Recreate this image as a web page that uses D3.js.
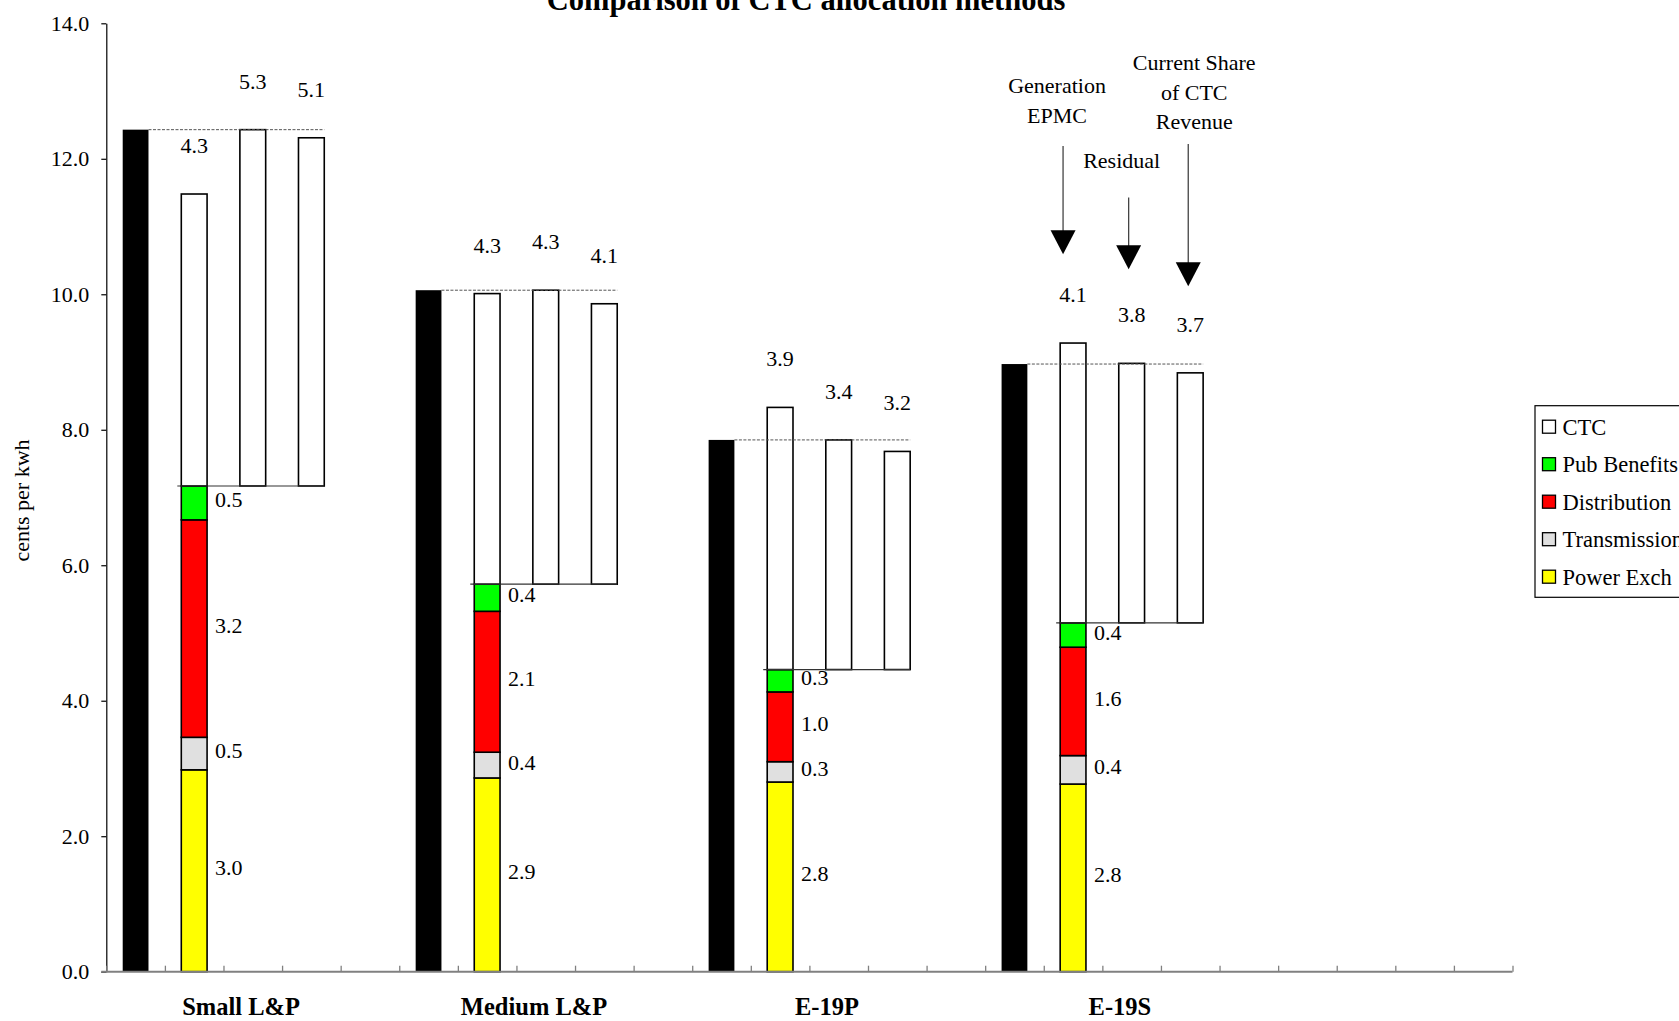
<!DOCTYPE html>
<html>
<head>
<meta charset="utf-8">
<script src="https://cdn.jsdelivr.net/npm/d3@7"></script>
<style>
  html, body { margin: 0; padding: 0; background: #fff; }
  svg { display: block; }
  text { font-family: "Liberation Serif", "Times New Roman", serif; fill: #000; }
</style>
</head>
<body>
<svg id="chart" width="1679" height="1021"></svg>
<script>
// ---------------- data ----------------
const categories = ["Small L&P", "Medium L&P", "E-19P", "E-19S"];
const yTickValues = [0, 2, 4, 6, 8, 10, 12, 14];

// current total rate (black bars), cents per kwh
const currentRate = [12.43, 10.06, 7.85, 8.97];

// stacked components (Generation EPMC method)
const powerExch    = [2.98, 2.86, 2.80, 2.77];
const transmission = [0.48, 0.38, 0.30, 0.42];
const distribution = [3.21, 2.08, 1.03, 1.60];
const pubBenefits  = [0.50, 0.40, 0.33, 0.36];
const ctcEPMC      = [4.31, 4.29, 3.87, 4.13];

// CTC under the other methods (floating bars)
const ctcResidual     = [5.26, 4.34, 3.39, 3.83];
const ctcCurrentShare = [5.14, 4.14, 3.22, 3.69];

const seriesNames = ["Power Exch", "Transmission", "Distribution", "Pub Benefits", "CTC"];
const legendOrder = ["CTC", "Pub Benefits", "Distribution", "Transmission", "Power Exch"];

const methodLabels = [["Generation", "EPMC"], ["Residual"], ["Current Share", "of CTC", "Revenue"]];

// ---------------- styles / layout ----------------
const colors = {
  "Power Exch": "#FFFF00",
  "Transmission": "#E0E0E0",
  "Distribution": "#FF0000",
  "Pub Benefits": "#00FF00",
  "CTC": "#FFFFFF"
};
const W = 1679, H = 1021;
const plot = { left: 106.3, right: 1512.5, top: 23.3, bottom: 971.7 };
const slotsPerGroup = 5, totalSlots = 24;

const svg = d3.select("#chart");

const y = d3.scaleLinear().domain([0, 14]).range([plot.bottom, plot.top]);
const slot = d3.scaleBand().domain(d3.range(totalSlots))
  .range([plot.left, plot.right]).paddingInner(0.56).paddingOuter(0.28);
const bw = slot.bandwidth();
const xBound = d3.scaleLinear().domain([0, totalSlots]).range([plot.left, plot.right]);
const fmt = d3.format(".1f");

const seriesValues = {
  "Power Exch": powerExch, "Transmission": transmission, "Distribution": distribution,
  "Pub Benefits": pubBenefits, "CTC": ctcEPMC
};

const gBars = svg.append("g");
const gLines = svg.append("g");
const gLabels = svg.append("g");

categories.forEach((cat, i) => {
  const base = i * slotsPerGroup;
  // black bar: current rate
  gBars.append("rect")
    .attr("x", slot(base)).attr("width", bw)
    .attr("y", y(currentRate[i])).attr("height", y(0) - y(currentRate[i]))
    .attr("fill", "#000");

  // stacked bar
  let cum = 0;
  const segs = seriesNames.map(name => {
    const v = seriesValues[name][i];
    const s = { name, v, y0: cum, y1: cum + v };
    cum += v;
    return s;
  });
  gBars.selectAll(null).data(segs).enter().append("rect")
    .attr("x", slot(base + 1)).attr("width", bw)
    .attr("y", d => y(d.y1)).attr("height", d => y(d.y0) - y(d.y1))
    .attr("fill", d => colors[d.name])
    .attr("stroke", "#000").attr("stroke-width", 1.6);

  const nonCTC = segs[3].y1;

  // floating CTC bars
  const floats = [
    { slotIdx: base + 2, v: ctcResidual[i] },
    { slotIdx: base + 3, v: ctcCurrentShare[i] }
  ];
  gBars.selectAll(null).data(floats).enter().append("rect")
    .attr("x", d => slot(d.slotIdx)).attr("width", bw)
    .attr("y", d => y(nonCTC + d.v)).attr("height", d => y(nonCTC) - y(nonCTC + d.v))
    .attr("fill", "#fff").attr("stroke", "#000").attr("stroke-width", 1.6);

  // reference lines
  gLines.append("line")
    .attr("x1", slot(base) + bw).attr("x2", slot(base + 3) + bw)
    .attr("y1", y(currentRate[i])).attr("y2", y(currentRate[i]))
    .attr("stroke", "#555").attr("stroke-width", 1).attr("stroke-dasharray", "3,1.5");
  gLines.append("line")
    .attr("x1", slot(base + 1) - 4).attr("x2", slot(base + 3) + bw)
    .attr("y1", y(nonCTC)).attr("y2", y(nonCTC))
    .attr("stroke", "#333").attr("stroke-width", 1.2);

  // segment labels (non-CTC) to the right of stacked bar
  gLabels.selectAll(null).data(segs.slice(0, 4)).enter().append("text")
    .attr("x", slot(base + 1) + bw + 8)
    .attr("y", d => y((d.y0 + d.y1) / 2) - 2.5)
    .attr("dy", "0.32em")
    .attr("font-size", 22)
    .text(d => fmt(d.v));

  // CTC labels above the CTC bars
  const tops = [
    { slotIdx: base + 1, top: segs[4].y1, v: segs[4].v },
    { slotIdx: base + 2, top: nonCTC + ctcResidual[i], v: ctcResidual[i] },
    { slotIdx: base + 3, top: nonCTC + ctcCurrentShare[i], v: ctcCurrentShare[i] }
  ];
  gLabels.selectAll(null).data(tops).enter().append("text")
    .attr("x", d => slot(d.slotIdx) + bw / 2)
    .attr("y", d => y(d.top) - 41)
    .attr("text-anchor", "middle")
    .attr("font-size", 22)
    .text(d => fmt(d.v));
});

// ---------------- axes ----------------
const yAxis = svg.append("g")
  .attr("transform", `translate(${plot.left},0)`)
  .call(d3.axisLeft(y).tickValues(yTickValues).tickFormat(fmt)
    .tickSizeInner(5).tickSizeOuter(0).tickPadding(12));
yAxis.select(".domain").attr("stroke", "#000").attr("stroke-width", 1.2);
yAxis.selectAll(".tick line").attr("stroke", "#000").attr("stroke-width", 1.2);
yAxis.selectAll(".tick text").attr("font-family", "Liberation Serif").attr("font-size", 22).attr("fill", "#000");

const xAxis = svg.append("g")
  .attr("transform", `translate(0,${plot.bottom})`)
  .call(d3.axisBottom(xBound).tickValues(d3.range(0, totalSlots + 1))
    .tickFormat("").tickSizeInner(-6).tickSizeOuter(0));
xAxis.select(".domain").attr("stroke", "#808080").attr("stroke-width", 2)
  .attr("d", `M${plot.left - 5},0H${plot.right}`);
xAxis.selectAll(".tick line").attr("stroke", "#808080").attr("stroke-width", 1.3);

// category labels
svg.append("g").selectAll("text").data(categories).enter().append("text")
  .attr("x", (d, i) => slot(i * slotsPerGroup + 1) + bw / 2 + 0.8 * slot.step())
  .attr("y", plot.bottom + 43)
  .attr("text-anchor", "middle")
  .attr("font-size", 24.5).attr("font-weight", "bold")
  .text(d => d);

// y axis title
svg.append("text")
  .attr("transform", `translate(29,${(plot.top + plot.bottom) / 2 + 3}) rotate(-90)`)
  .attr("text-anchor", "middle")
  .attr("font-size", 22)
  .text("cents per kwh");

// title (partly clipped at top, as in the reference)
svg.append("text")
  .attr("x", 806).attr("y", 10)
  .attr("text-anchor", "middle")
  .attr("font-size", 30.5).attr("font-weight", "bold")
  .text("Comparison of CTC allocation methods");

// ---------------- method annotations with arrows ----------------
const e19sBase = 3 * slotsPerGroup;
const annotations = [
  { lines: methodLabels[0], slotIdx: e19sBase + 1, textDx: -16, arrowDx: -10, textTop: 12.97, lineFrom: 12.19, tip: 10.59 },
  { lines: methodLabels[1], slotIdx: e19sBase + 2, textDx: -10, arrowDx: -3, textTop: 11.86, lineFrom: 11.43, tip: 10.37 },
  { lines: methodLabels[2], slotIdx: e19sBase + 3, textDx: 4, arrowDx: -2, textTop: 13.31, lineFrom: 12.22, tip: 10.12 }
];
const gAnn = svg.append("g");
annotations.forEach(a => {
  const cx = slot(a.slotIdx) + bw / 2;
  const t = gAnn.append("text")
    .attr("x", cx + a.textDx).attr("y", y(a.textTop))
    .attr("text-anchor", "middle").attr("font-size", 22);
  a.lines.forEach((ln, k) => {
    t.append("tspan").attr("x", cx + a.textDx).attr("dy", k === 0 ? 0 : 29.5).text(ln);
  });
  const ax = cx + a.arrowDx;
  const headH = 24, headW = 25;
  gAnn.append("line")
    .attr("x1", ax).attr("x2", ax)
    .attr("y1", y(a.lineFrom)).attr("y2", y(a.tip) - headH + 1)
    .attr("stroke", "#444").attr("stroke-width", 1.3);
  gAnn.append("path")
    .attr("d", `M${ax - headW / 2},${y(a.tip) - headH}L${ax + headW / 2},${y(a.tip) - headH}L${ax},${y(a.tip)}Z`)
    .attr("fill", "#000");
});

// ---------------- legend ----------------
const lg = svg.append("g").attr("transform", "translate(1535,405.7)");
lg.append("rect").attr("x", 0).attr("y", 0).attr("width", 220).attr("height", 191.6)
  .attr("fill", "#fff").attr("stroke", "#000").attr("stroke-width", 1.2);
const li = lg.selectAll("g.item").data(legendOrder).enter().append("g")
  .attr("transform", (d, i) => `translate(7.5,${21 + i * 37.5})`);
li.append("rect").attr("x", 0).attr("y", -6.5).attr("width", 13).attr("height", 13)
  .attr("fill", d => colors[d]).attr("stroke", "#000").attr("stroke-width", 1.3);
li.append("text").attr("x", 20).attr("dy", "0.35em").attr("font-size", 22.5).text(d => d);
</script>
</body>
</html>
